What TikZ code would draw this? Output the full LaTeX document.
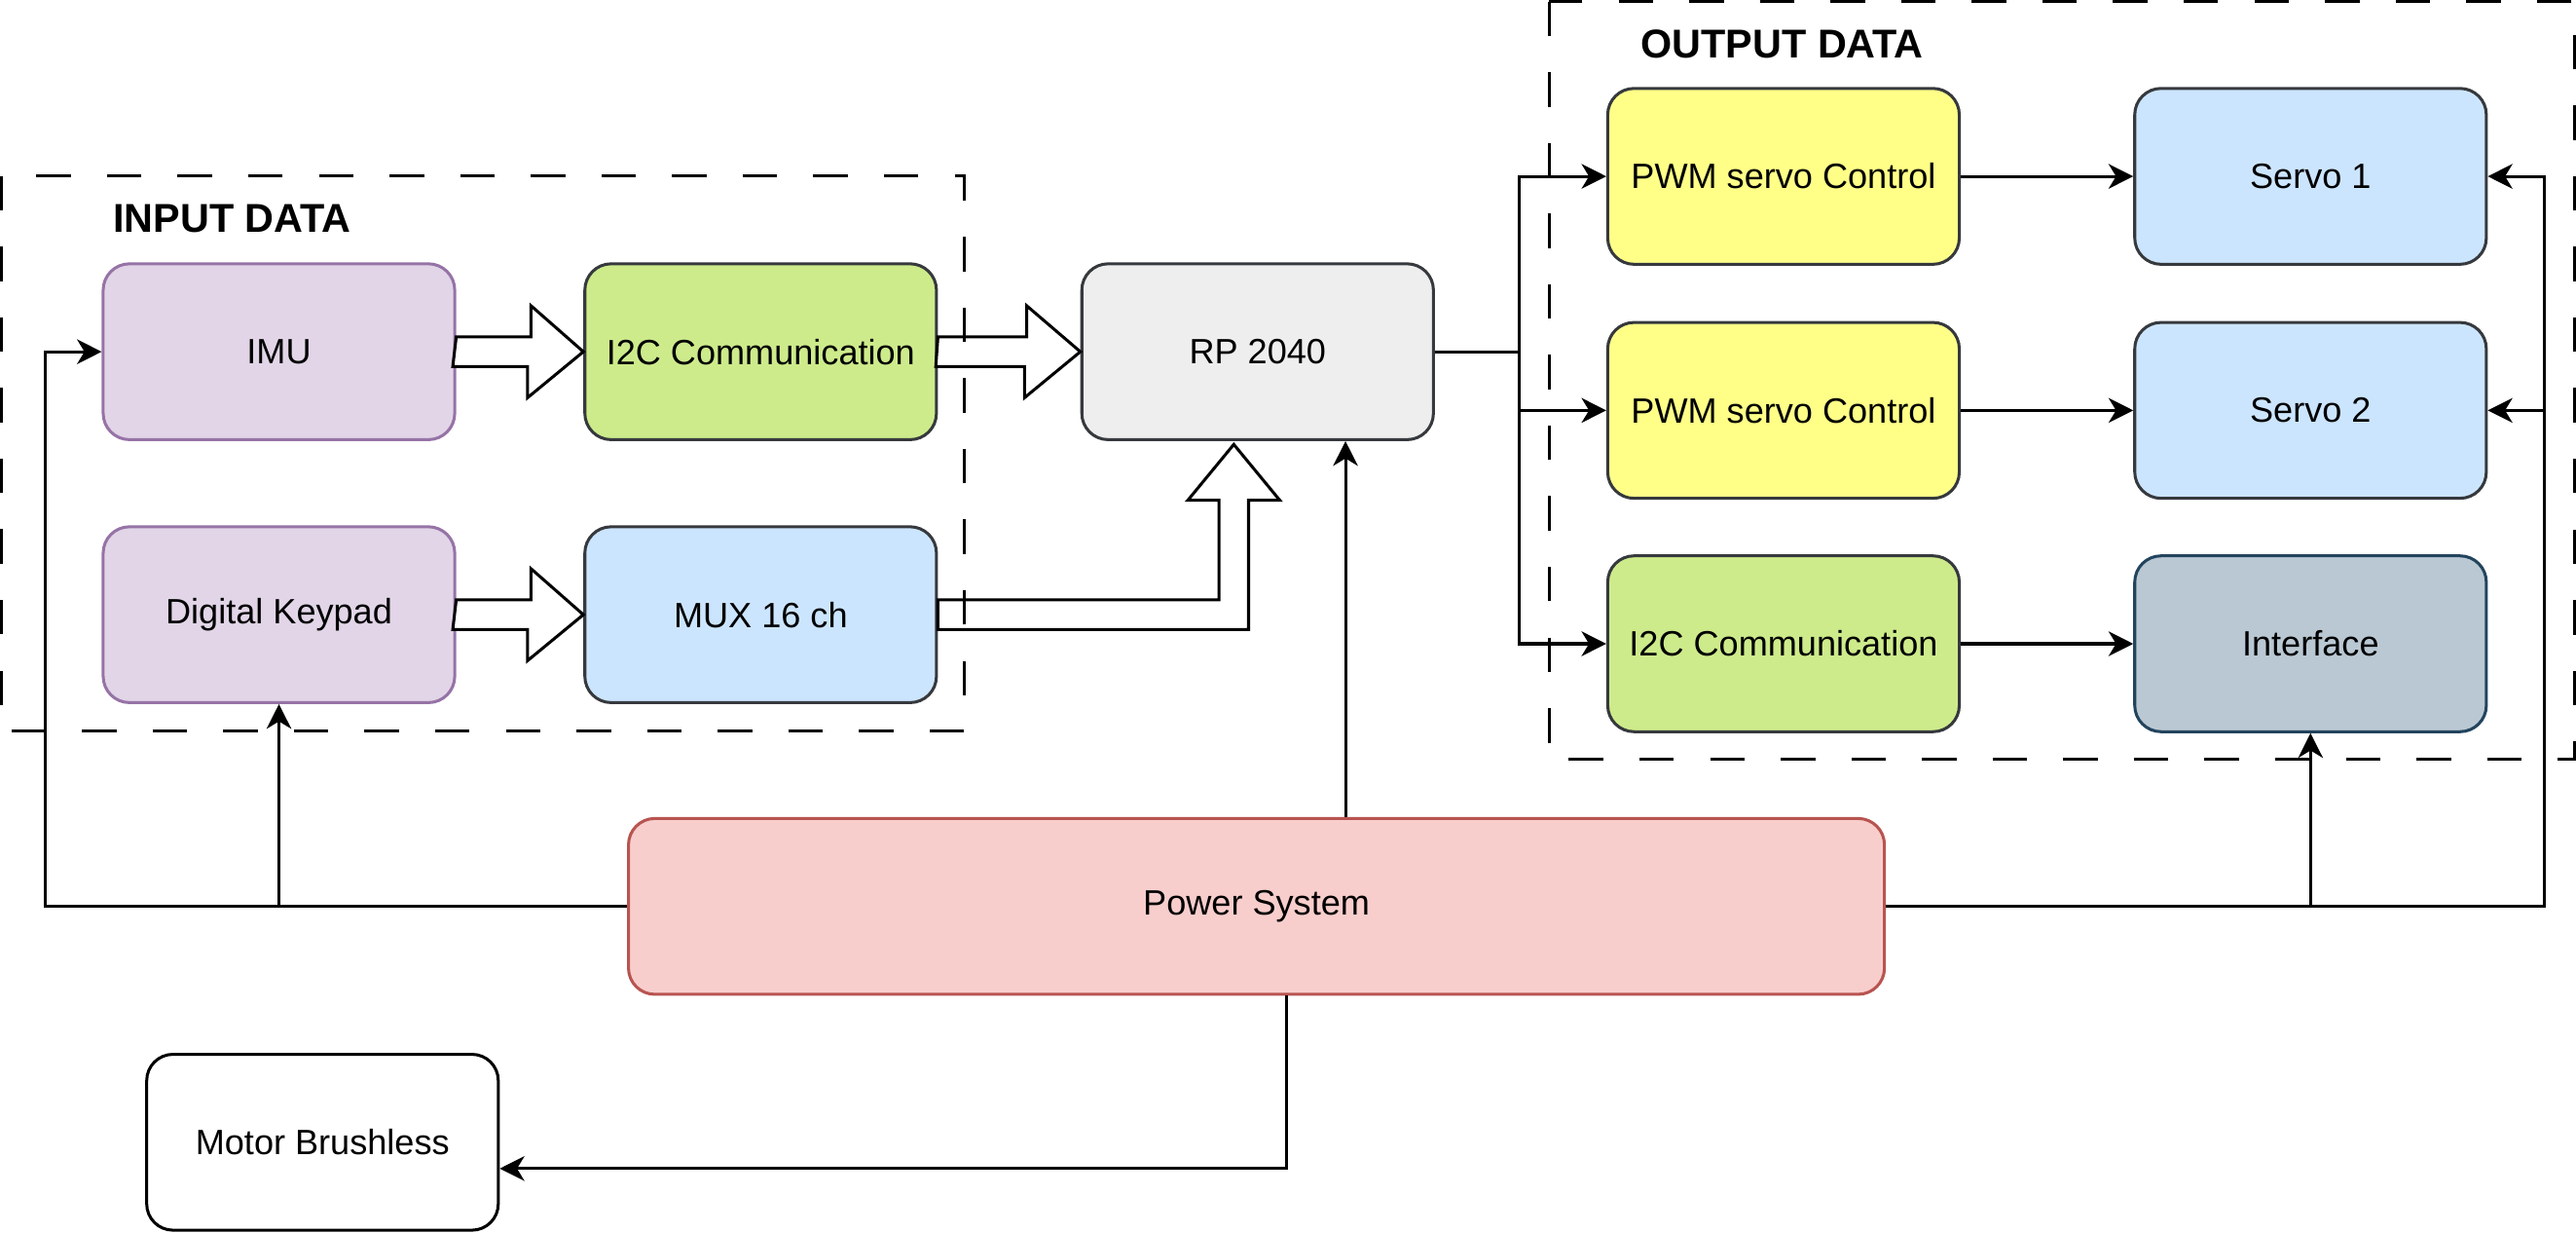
\documentclass[tikz,border=0pt]{standalone}
\usepackage{fontspec}
\setmainfont{Liberation Sans}
\usetikzlibrary{arrows.meta,calc}
\definecolor{purpF}{HTML}{E1D5E7}
\definecolor{purpD}{HTML}{9673A6}
\definecolor{greenF}{HTML}{CDEB8B}
\definecolor{darkD}{HTML}{36393D}
\definecolor{blueF}{HTML}{CCE5FF}
\definecolor{greyF}{HTML}{EEEEEE}
\definecolor{yellowF}{HTML}{FFFF88}
\definecolor{slateF}{HTML}{BAC8D3}
\definecolor{slateD}{HTML}{23445D}
\definecolor{redF}{HTML}{F8CECC}
\definecolor{redD}{HTML}{B85450}
\begin{document}
\begin{tikzpicture}[x=1pt,y=-1pt,line width=1.8pt,
  box/.style={draw=darkD,rounded corners=16pt,minimum width=214pt,minimum height=107pt,
    inner sep=0pt,font=\fontsize{21.4}{25}\selectfont,line width=1.8pt},
  purplebox/.style={box,fill=purpF,draw=purpD},
  greenbox/.style={box,fill=greenF},
  bluebox/.style={box,fill=blueF},
  greybox/.style={box,fill=greyF},
  yellowbox/.style={box,fill=yellowF},
  slatebox/.style={box,fill=slateF,draw=slateD},
  groupbox/.style={draw=black,line width=1.8pt,dash pattern=on 21pt off 22pt},
  grouplabel/.style={anchor=west,inner sep=0pt,font=\bfseries\fontsize{24.5}{28}\selectfont},
  conn/.style={draw=black,line width=1.8pt,-{Stealth[length=15pt,width=15pt,inset=4.5pt]}},
  plain/.style={draw=black,line width=1.8pt},
  blockarrow/.style={draw=black,fill=white,line width=1.8pt,line join=miter}]
\useasboundingbox (0,0) rectangle (1568,750);

% nodes
\node[purplebox] (imu) at (169.8,214) {IMU};
\node[greenbox] (i2c) at (463,214) {I2C Communication};
\node[greybox] (rp) at (765.5,214) {RP 2040};
\node[purplebox] (keypad) at (169.8,374) {Digital Keypad};
\node[bluebox] (mux) at (463,374) {MUX 16 ch};

\node[yellowbox] (pwm1) at (1085.6,107.3) {PWM servo Control};
\node[bluebox] (servo1) at (1406.4,107.3) {Servo 1};
\node[yellowbox] (pwm2) at (1085.6,249.7) {PWM servo Control};
\node[bluebox] (servo2) at (1406.4,249.7) {Servo 2};
\node[greenbox] (i2co) at (1085.6,391.7) {I2C Communication};
\node[slatebox] (iface) at (1406.4,391.7) {Interface};

\node[box,fill=redF,draw=redD,minimum width=764.5pt] (power) at (764.8,551.5) {Power System};
\node[box,fill=white,draw=black] (motor) at (196.3,695) {Motor Brushless};

% block arrows
\draw[blockarrow] (imu.east) ++(0,-9) -- ++(45.5,0) -- ++(0,-19) -- (i2c.west)
  -- ++(-34,28) -- ++(0,-19) -- ++(-45.5,0) -- cycle;
\draw[blockarrow] (keypad.east) ++(0,-9) -- ++(45.5,0) -- ++(0,-19) -- (mux.west)
  -- ++(-34,28) -- ++(0,-19) -- ++(-45.5,0) -- cycle;
\draw[blockarrow] (i2c.east) ++(0,-9) -- ++(54,0) -- ++(0,-19) -- (rp.west)
  -- ++(-34,28) -- ++(0,-19) -- ++(-54,0) -- cycle;
\coordinate (bt) at ([xshift=-14.5pt,yshift=-2pt]rp.south);
\draw[blockarrow] ($(mux.east)+(0,-9)$) -- ($(bt|-mux.east)+(-9,-9)$) -- ($(bt)+(-9,34)$)
  -- ($(bt)+(-28,34)$) -- (bt) -- ($(bt)+(28,34)$) -- ($(bt)+(9,34)$)
  -- ($(bt|-mux.east)+(9,9)$) -- ($(mux.east)+(0,9)$) -- cycle;

% RP2040 to outputs
\coordinate (obus) at (925,214);
\draw[plain] (rp.east) -- (obus);
\draw[conn] (obus) |- (pwm1.west);
\draw[conn] (obus) |- (pwm2.west);
\draw[conn] (obus) |- (i2co.west);
\draw[conn] (pwm1) -- (servo1);
\draw[conn] (pwm2) -- (servo2);
\draw[conn] (i2co) -- (iface);

% power distribution
\coordinate (lbus) at (27.5,551.5);
\coordinate (rbus) at (1549,551.5);
\draw[conn] (power.west) -- (lbus) |- (imu.west);
\draw[conn] (keypad.south |- power.west) -- (keypad.south);
\draw[conn] ([xshift=53.5pt]rp.south |- power.north) -- ([xshift=53.5pt]rp.south);
\draw[conn] (power.east) -- (rbus) |- (servo1.east);
\draw[conn] (rbus |- servo2.east) -- (servo2.east);
\draw[conn] (iface.south |- power.east) -- (iface.south);
\draw[conn] ([xshift=18.2pt]power.south) |- ([yshift=-16pt]motor.east);

% group frames (drawn on top, as in the reference)
\draw[groupbox] (0.9,107) rectangle (587,445);
\draw[groupbox] (943,0.9) rectangle (1567,462);
\node[grouplabel] (inlabel) at (68,133) {INPUT DATA};
\node[grouplabel] (outlabel) at (998,27) {OUTPUT DATA};
\end{tikzpicture}
\end{document}
